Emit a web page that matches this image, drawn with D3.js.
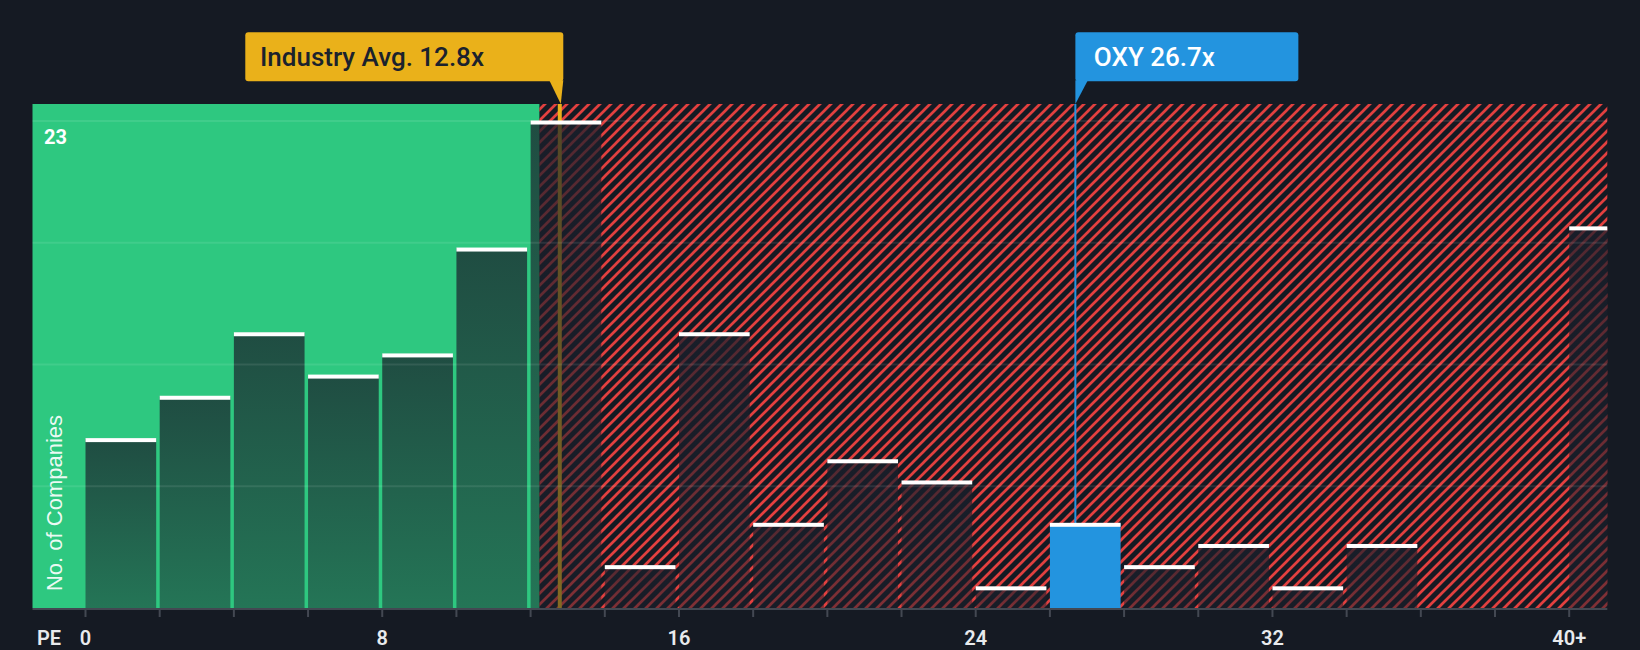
<!DOCTYPE html>
<html><head><meta charset="utf-8">
<script src="https://cdn.jsdelivr.net/npm/d3@7"></script>
<style>html,body{margin:0;padding:0;background:#151a23;} svg{display:block}</style>
</head><body><svg id="c" width="1640" height="650"></svg>
<script>
// ---- data ----
const binStarts = [0,2,4,6,8,10,12,14,16,18,20,22,24,26,28,30,32,34,36,38,40];
const counts    = [8,10,13,11,12,17,23,2,13,4,7,6,1,4,2,3,1,3,0,0,18];
const tickValues = [0,8,16,24,32,40];
const tickLabels = ["0","8","16","24","32","40+"];
const industryAvg = 12.8;
const companyPE = 26.7;
const companyName = "OXY";
const highlightIndex = 13;
const yMaxCount = 23;
const greenLimit = 12.25;

// ---- layout ----
const W = 1640, H = 650;
const plotLeft = 32.5, plotRight = 1607.3, plotTop = 104, plotBottom = 608;
const svg = d3.select("#c");
const x = d3.scaleLinear().domain([0, 40]).range([85, 1568.7]);
const y = d3.scaleLinear().domain([0, yMaxCount]).range([plotBottom, 121]);

const defs = svg.append("defs");
const P = 11;
const pat = defs.append("pattern").attr("id","hatch").attr("patternUnits","userSpaceOnUse")
  .attr("width",P).attr("height",P);
pat.append("path").attr("d",`M-2,2 L2,-2 M0,${P} L${P},0 M${P-2},${P+2} L${P+2},${P-2}`)
  .attr("stroke","#e2403f").attr("stroke-width",2.7);
const grad = defs.append("linearGradient").attr("id","barGrad").attr("x1",0).attr("y1",0).attr("x2",0).attr("y2",1);
grad.append("stop").attr("offset","0%").attr("stop-color","#1a1f2b").attr("stop-opacity",0.73);
grad.append("stop").attr("offset","100%").attr("stop-color","#1a1f2b").attr("stop-opacity",0.49);

// backgrounds
svg.append("rect").attr("x",plotLeft).attr("y",plotTop)
  .attr("width",x(greenLimit)-plotLeft).attr("height",plotBottom-plotTop).attr("fill","#2ec880");
svg.append("rect").attr("x",x(greenLimit)).attr("y",plotTop)
  .attr("width",plotRight-x(greenLimit)).attr("height",plotBottom-plotTop).attr("fill","url(#hatch)");

// industry avg line (under bars)
const lx = x(industryAvg);
svg.append("line").attr("x1",lx).attr("x2",lx).attr("y1",plotTop).attr("y2",plotBottom)
  .attr("stroke","#eab11a").attr("stroke-width",4);

// company line
const ox = x(companyPE);
svg.append("line").attr("x1",ox).attr("x2",ox).attr("y1",plotTop).attr("y2",y(counts[highlightIndex]))
  .attr("stroke","#2394df").attr("stroke-width",2);

// bars
const bins = binStarts.map((s,i)=>({
  x0: s,
  x1: i < binStarts.length-1 ? binStarts[i+1] : x.invert(plotRight),
  v: counts[i], i
}));
const barW = d => Math.min(x(d.x1), plotRight) - x(d.x0) - (d.x1>40 ? 0.5 : 3.5);
svg.append("g").selectAll("rect").data(bins.filter(d=>d.v>0)).join("rect")
  .attr("x",d=>x(d.x0)+0.5).attr("width",barW)
  .attr("y",d=>y(d.v)).attr("height",d=>plotBottom-y(d.v))
  .attr("fill",d=>d.i===highlightIndex ? "#2394df" : "url(#barGrad)");
svg.append("g").selectAll("rect").data(bins.filter(d=>d.v>0)).join("rect")
  .attr("x",d=>x(d.x0)+0.5).attr("width",barW)
  .attr("y",d=>y(d.v)-0.5).attr("height",4)
  .attr("fill","#ffffff");

// gridlines
const gridVals = [0.25,0.5,0.75,1].map(f=>f*yMaxCount);
svg.append("g").selectAll("line").data(gridVals).join("line")
  .attr("x1",plotLeft).attr("x2",plotRight).attr("y1",d=>y(d)).attr("y2",d=>y(d))
  .attr("stroke","#ffffff").attr("stroke-opacity",0.09).attr("stroke-width",2);

// x axis
const axis = d3.axisBottom(x).tickValues(d3.range(0,41,2)).tickSize(8).tickSizeOuter(0)
  .tickFormat(d => { const k = tickValues.indexOf(d); return k>=0 ? tickLabels[k] : ""; });
const gx = svg.append("g").attr("transform",`translate(0,${plotBottom+1})`).call(axis);
gx.select(".domain").attr("d",`M${plotLeft},0H${plotRight}`).attr("stroke","#434852").attr("stroke-width",2);
gx.selectAll(".tick line").attr("stroke","#434852").attr("stroke-width",2);
gx.selectAll(".tick text").attr("y",36).attr("dy",0)
  .attr("fill","#e8eaed").style("font-family","Roboto, sans-serif").style("font-size","20px").style("font-weight",600);
svg.append("text").attr("x",37).attr("y",645).text("PE")
  .attr("fill","#e8eaed").style("font-family","Roboto, sans-serif").style("font-size","20px").style("font-weight",600);

// y max label
svg.append("text").attr("x",44).attr("y",144).text(String(yMaxCount))
  .attr("fill","#ffffff").style("font-family","Roboto, sans-serif").style("font-size","20px").style("font-weight",700);

// y title
svg.append("text").attr("transform",`translate(62,503) rotate(-90)`).attr("text-anchor","middle")
  .text("No. of Companies").attr("fill","#ffffff").attr("fill-opacity",0.92)
  .style("font-family","'Liberation Sans', Arial, sans-serif").style("font-size","22px");

// callouts
function callout(left, width, tipX, notchX, color, label, textColor, pad){
  const top = 32.3, bottom = 81.3, r = 3;
  const g = svg.append("g");
  g.append("rect").attr("x",left).attr("y",top).attr("width",width).attr("height",bottom-top).attr("rx",r).attr("fill",color);
  g.append("path").attr("d",`M${notchX[0]},${bottom-1} L${tipX},${plotTop} L${notchX[1]},${bottom-1} Z`).attr("fill",color);
  g.append("text").attr("x",left+pad).attr("y",65.7).text(label).attr("fill",textColor)
    .style("font-family","Roboto, sans-serif").style("font-size","26px").style("font-weight",500);
}
const iRight = lx + 3.5;
callout(iRight-318, 318, lx+1, [iRight-14, iRight], "#eab11a", `Industry Avg. ${industryAvg}x`, "#1b222d", 14.7);
callout(ox, 223, ox, [ox, ox+12.5], "#2394df", `${companyName} ${companyPE}x`, "#ffffff", 18.5);
</script></body></html>
